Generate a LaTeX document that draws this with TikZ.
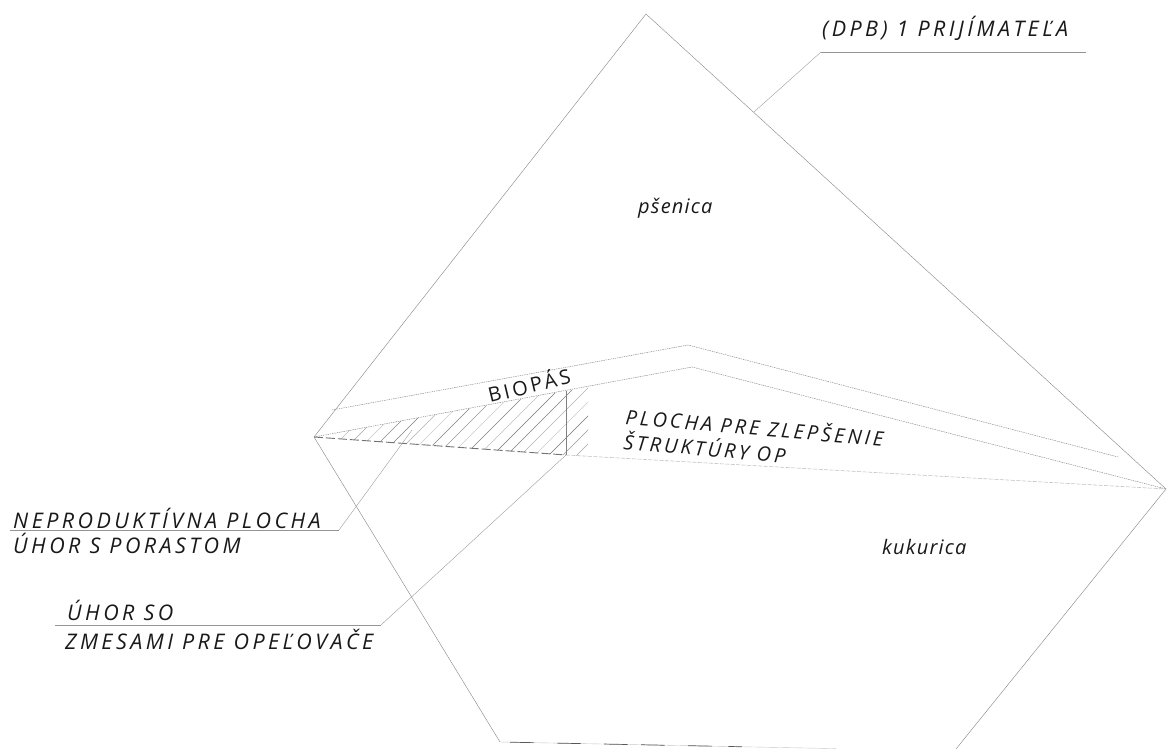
\documentclass[tikz,border=0pt]{standalone}
\usepackage{fontspec}
\usetikzlibrary{calc}
\setmainfont{Open Sans}
\newfontfamily\lblfont[LetterSpace=16]{Open Sans}
\newfontfamily\cropfont[LetterSpace=6]{Open Sans}
\newfontfamily\plochafont[LetterSpace=15]{Open Sans}
\begin{document}
\begin{tikzpicture}[x=1pt,y=-1pt,
  edge/.style={draw=black!48,line width=0.4pt},
  dotted edge/.style={draw=black!48,line width=0.45pt,dash pattern=on 1.4pt off 0.9pt},
  faint edge/.style={draw=black!25,line width=0.55pt,dash pattern=on 4pt off 1.5pt},
  leader/.style={draw=black!42,line width=0.6pt},
  leader thin/.style={draw=black!42,line width=0.35pt},
  hatch/.style={draw=black!35,line width=0.45pt},
  lbl/.style={font=\lblfont\itshape\fontsize{21.5}{24}\selectfont,text=black!90,inner sep=0pt,anchor=base west},
  crop/.style={font=\cropfont\itshape\fontsize{20}{22}\selectfont,text=black!90,inner sep=0pt,anchor=base west},
  plocha/.style={font=\plochafont\itshape\fontsize{20}{22}\selectfont,text=black!90,inner sep=0pt,anchor=base west},
  bio/.style={font=\plochafont\fontsize{20}{22}\selectfont,text=black!90,inner sep=0pt,anchor=base west}
]
\useasboundingbox (0,0) rectangle (1168,749);
\fill[white] (0,0) rectangle (1168,749);
% vertices
\coordinate (top) at (646,14);
\coordinate (right) at (1166,489);
\coordinate (left) at (314,437);
\coordinate (botl) at (500,742);
\coordinate (botr) at (836,748.6);
\coordinate (rightend) at (956,749);
\coordinate (ua) at (332,410);
\coordinate (ub) at (688,345);
\coordinate (uc) at (1118,457);
\coordinate (lb) at (692,367);
\coordinate (mid) at (566,455);
\coordinate (midtop) at (566,391);
% hatching
\begin{scope}
\clip (left) -- (566,391) -- (588,387) -- (588,456.3) -- (mid) -- cycle;
\foreach \x/\g in {320/25,334/35,348/22,362/45,376/50,390/30,404/20,418/50,432/40,446/20,460/50,474/25,488/55,502/50,516/30,530/20,544/55,558/40,572/35,586/55,600/35,614/25,628/18,642/35,656/20}
  \draw[hatch,draw=black!\g] (\x,460) -- ++(80,-80);
\end{scope}
% outline
\draw[edge] (left) -- (top) -- (right) -- (rightend);
\draw[edge] (left) -- (botl);
\draw[edge,draw=black!22] (botl) -- (botr);
\foreach \a/\b in {0.03/0.1,0.17/0.24,0.31/0.38,0.42/0.49,0.56/0.63,0.68/0.72}
  \draw[draw=black!65,line width=0.7pt] ($(botl)!\a!(botr)$) -- ($(botl)!\b!(botr)$);
% strips
\draw[dotted edge] (ua) -- (ub) -- (uc);
\draw[dotted edge] (left) -- (lb) -- (right);
\draw[draw=black!55,line width=0.9pt,dash pattern=on 9pt off 3pt] (left) -- (mid);
\draw[faint edge] (mid) -- (right);
\draw[draw=black!50,line width=0.5pt] (midtop) -- (mid);
% leaders
\coordinate (l1a) at (10,530); \coordinate (l1b) at (339,530); \coordinate (l1c) at (412,430);
\coordinate (l2a) at (55,625); \coordinate (l2b) at (381,625);
\coordinate (l3a) at (1086,52); \coordinate (l3b) at (821,52); \coordinate (l3c) at (754,112);
\draw[leader] (l1a) -- (l1b);
\draw[leader thin] (l1b) -- (l1c);
\draw[leader,line width=1pt] (l2a) -- (l2b);
\draw[leader thin] (l2b) -- (mid);
\draw[leader] (l3a) -- (l3b);
\draw[leader thin] (l3b) -- (l3c);
% labels
\node[lbl] (t1) at (822,37) {(DPB) 1 PRIJÍMATEĽA};
\node[crop] (t2) at (638,213) {pšenica};
\node[crop] (t3) at (882,554) {kukurica};
\node[bio,rotate=13.5] (t4) at (490,403) {BIOPÁS};
\node[plocha,rotate=-5] (t5) at (625,424) {PLOCHA PRE ZLEPŠENIE};
\node[plocha,rotate=-5] (t6) at (623,449) {ŠTRUKTÚRY OP};
\node[lbl] (t7) at (13,528) {NEPRODUKTÍVNA PLOCHA};
\node[lbl] (t8) at (13,553) {ÚHOR S PORASTOM};
\node[lbl] (t9) at (67,620) {ÚHOR SO};
\node[lbl] (t10) at (65,649) {ZMESAMI PRE OPEĽOVAČE};
\end{tikzpicture}
\end{document}
